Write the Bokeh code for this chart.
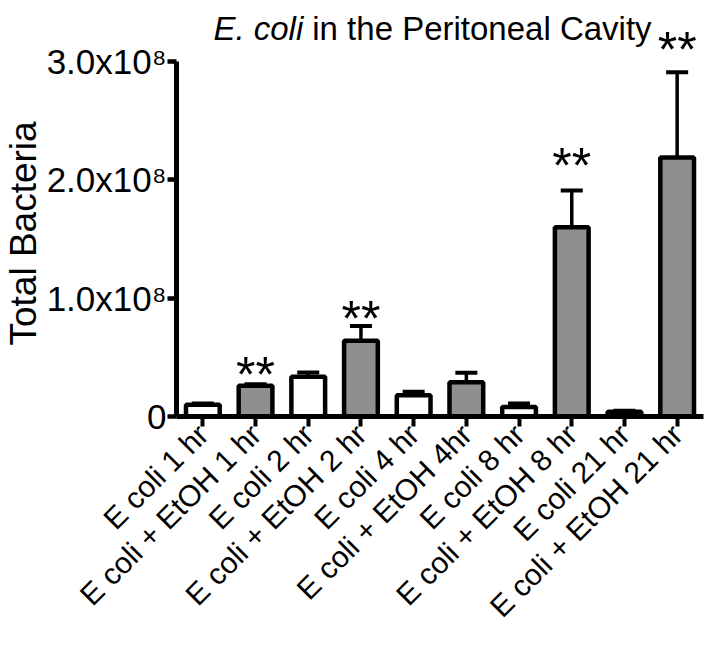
import math
from bokeh.plotting import figure
from bokeh.models import ColumnDataSource, FactorRange, Range1d, FixedTicker, Whisker, TeeHead, Label, Title
from bokeh.core.properties import value
from bokeh.embed import file_html
from bokeh.resources import INLINE

# ---- data ----
categories = ["E coli 1 hr", "E coli + EtOH 1 hr", "E coli 2 hr", "E coli + EtOH 2 hr",
              "E coli 4 hr", "E coli + EtOH 4hr", "E coli 8 hr", "E coli + EtOH 8 hr",
              "E coli 21 hr", "E coli + EtOH 21 hr"]
means = [0.10e8, 0.26e8, 0.335e8, 0.64e8, 0.18e8, 0.29e8, 0.08e8, 1.60e8, 0.04e8, 2.19e8]
sems = [0.01e8, 0.012e8, 0.037e8, 0.125e8, 0.03e8, 0.08e8, 0.03e8, 0.31e8, 0.008e8, 0.72e8]
treatment = ["E coli", "EtOH", "E coli", "EtOH", "E coli", "EtOH", "E coli", "EtOH", "E coli", "EtOH"]
star_categories = ["E coli + EtOH 1 hr", "E coli + EtOH 2 hr", "E coli + EtOH 8 hr", "E coli + EtOH 21 hr"]
star_y = [0.44e8, 0.92e8, 2.21e8, 3.19e8]
y_ticks = [0, 100000000, 200000000, 300000000]
y_tick_labels = ["0", "1.0x10\u2078", "2.0x10\u2078", "3.0x10\u2078"]

colors = {"E coli": "white", "EtOH": "#8f8f8f"}
FONT = "Liberation Sans"

src = ColumnDataSource(dict(
    cat=categories,
    mean=means,
    upper=[m + s for m, s in zip(means, sems)],
    fill=[colors[t] for t in treatment],
))

p = figure(width=704, height=640, x_range=FactorRange(factors=categories),
           y_range=Range1d(0, 3.516e8), output_backend="svg", toolbar_location=None,
           min_border_left=175, min_border_right=1, min_border_top=0, min_border_bottom=224)
p.outline_line_color = None
p.grid.visible = False
p.background_fill_color = "white"

p.add_layout(Whisker(source=src, base="cat", lower="mean", upper="upper",
                     line_width=3.5, line_color="black",
                     upper_head=TeeHead(size=22, line_width=4, line_color="black"),
                     lower_head=None))

p.vbar(x="cat", top="mean", width=0.64, fill_color="fill", line_color="black",
       line_width=4.5, source=src)

p.text(x=star_categories, y=star_y, text=["**"] * len(star_y), text_align="center",
       text_baseline="middle", text_font=value(FONT), text_font_size="50px",
       text_color="black", y_offset=11)

# title with italic species name
p.add_layout(Label(x=2.405, y=3.28e8, text="E. coli", text_align="right", text_baseline="alphabetic",
                   text_font=FONT, text_font_size="33px", text_font_style="italic",
                   text_color="black"))
p.add_layout(Label(x=2.576, y=3.28e8, text="in the Peritoneal Cavity", text_align="left",
                   text_baseline="alphabetic", text_font=FONT, text_font_size="33px",
                   text_color="black"))

# y-axis title (left panel, anchored at the bottom and lifted to the reference position)
p.add_layout(Title(text="Total Bacteria", align="left", offset=71, text_font=FONT,
                   text_font_size="37px", text_font_style="normal", text_color="black",
                   standoff=0), "left")

xa = p.xaxis[0]
xa.axis_line_width = 5
xa.axis_line_color = "black"
xa.major_tick_line_width = 4
xa.major_tick_line_color = "black"
xa.major_tick_out = 10
xa.major_tick_in = 0
xa.minor_tick_line_color = None
xa.major_label_orientation = math.pi / 4
xa.major_label_text_font = FONT
xa.major_label_text_font_size = "30px"
xa.major_label_text_color = "black"
xa.major_label_standoff = 3

ya = p.yaxis[0]
ya.ticker = FixedTicker(ticks=y_ticks)
ya.major_label_overrides = dict(zip(y_ticks, y_tick_labels))
ya.bounds = (0, 3e8)
ya.axis_line_width = 5
ya.axis_line_color = "black"
ya.major_tick_line_width = 4.5
ya.major_tick_line_color = "black"
ya.major_tick_out = 9
ya.major_tick_in = 0
ya.minor_tick_line_color = None
ya.major_label_text_font = FONT
ya.major_label_text_font_size = "35px"
ya.major_label_text_color = "black"
ya.major_label_standoff = 1

open("out.html", "w").write(file_html(p, INLINE))
